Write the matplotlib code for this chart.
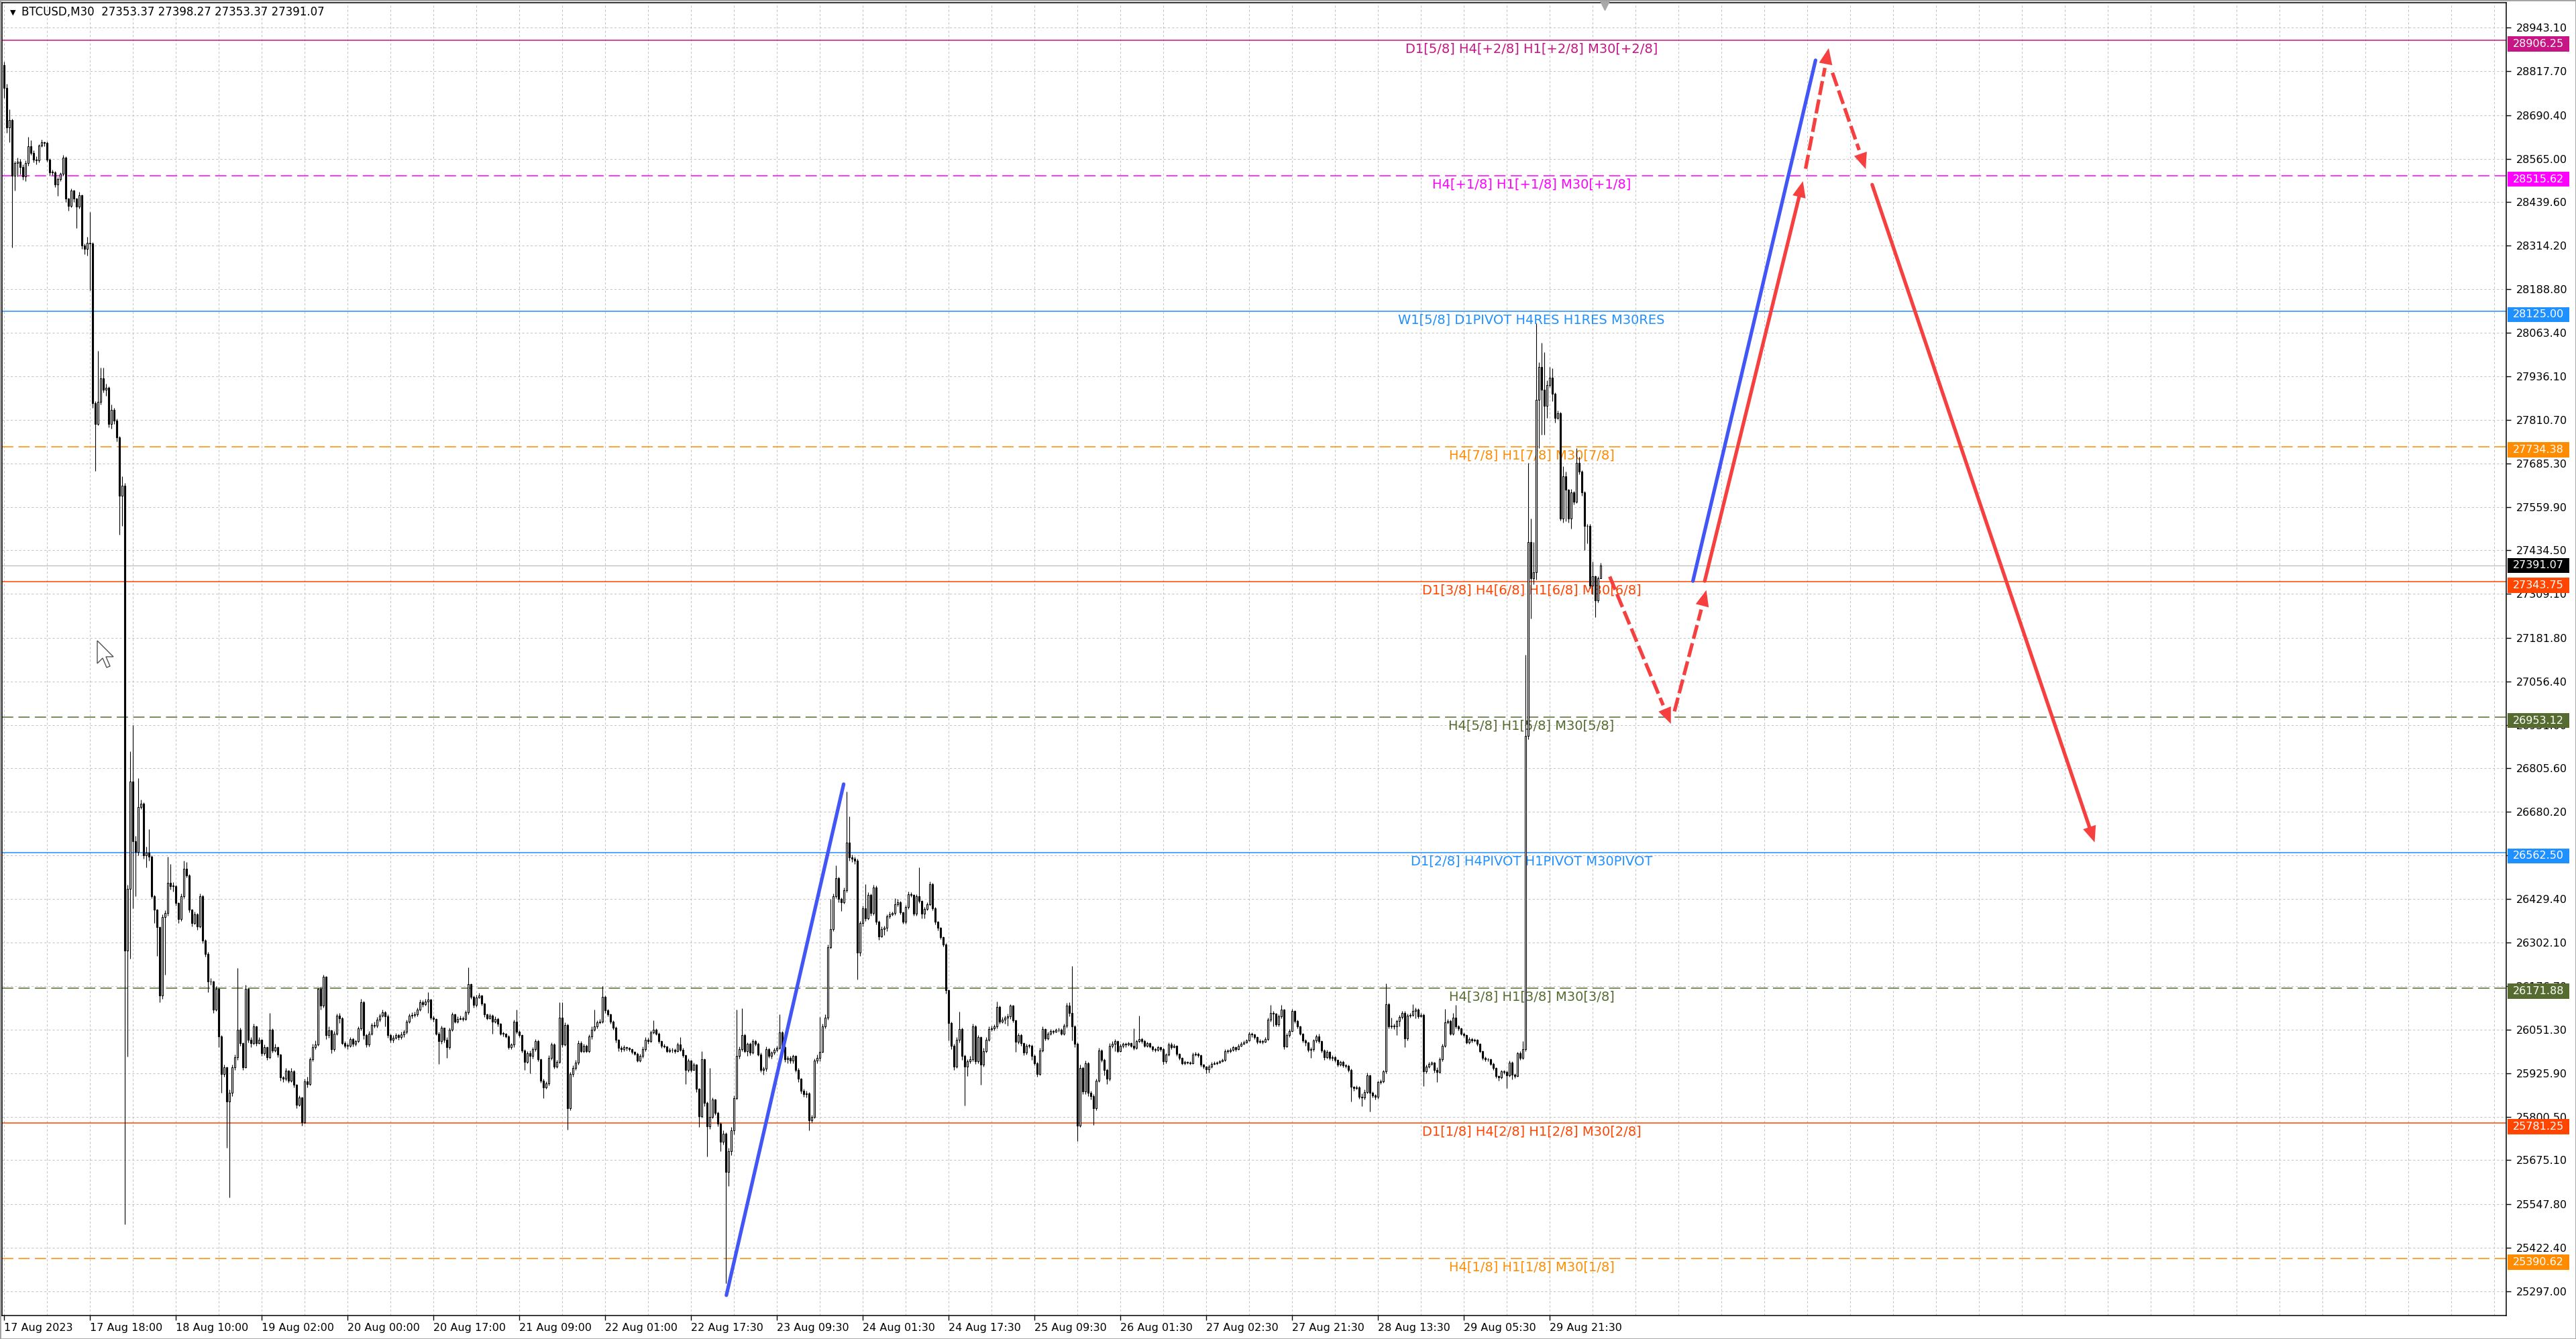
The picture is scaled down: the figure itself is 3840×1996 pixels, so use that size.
import numpy as np
import matplotlib
matplotlib.use('Agg')
import matplotlib.pyplot as plt
from matplotlib.patches import Polygon, Rectangle
from matplotlib.transforms import blended_transform_factory

# --- BTCUSD M30 candles ---
first_open = 28836
closes = np.array([
    28770, 28655, 28676, 28515, 28552, 28556, 28540, 28513, 28552, 28600,
    28581, 28563, 28560, 28602, 28612, 28610, 28563, 28526, 28526, 28490,
    28506, 28521, 28568, 28449, 28429, 28473, 28449, 28426, 28460, 28314,
    28304, 28323, 28320, 27859, 27800, 27863, 27932, 27899, 27903, 27800,
    27840, 27810, 27760, 27593, 27622, 26279, 26457, 26767, 26595, 26565,
    26694, 26703, 26555, 26562, 26550, 26437, 26397, 26348, 26150, 26377,
    26388, 26476, 26466, 26466, 26418, 26370, 26437, 26516, 26497, 26397,
    26360, 26385, 26350, 26437, 26309, 26270, 26190, 26190, 26110, 26170,
    26032, 25923, 25943, 25845, 25870, 25943, 25972, 26052, 26012, 25943,
    26170, 26022, 26012, 26060, 26012, 26022, 25983, 26000, 25972, 26052,
    25992, 26000, 25980, 25913, 25910, 25933, 25905, 25932, 25893, 25835,
    25855, 25785, 25903, 25895, 25966, 26000, 26009, 26169, 26120, 26204,
    26035, 26050, 25995, 26040, 26091, 26085, 26013, 26005, 26005, 26025,
    26010, 26018, 26055, 26130, 26035, 26008, 26040, 26065, 26062, 26080,
    26091, 26101, 26090, 26035, 26022, 26028, 26036, 26030, 26038, 26045,
    26074, 26091, 26093, 26096, 26109, 26130, 26125, 26132, 26139, 26087,
    26083, 26040, 26018, 26057, 26022, 26001, 26052, 26096, 26075, 26083,
    26085, 26082, 26101, 26182, 26147, 26122, 26145, 26150, 26126, 26096,
    26085, 26092, 26075, 26083, 26068, 26040, 26040, 26032, 26001, 26008,
    26074, 26045, 26035, 25992, 25958, 25984, 25975, 25995, 26018, 25966,
    25905, 25884, 25896, 25970, 26009, 25944, 25958, 26087, 26009, 26065,
    25824, 25923, 25940, 25957, 26013, 25990, 26004, 25990, 26031, 26052,
    26061, 26072, 26075, 26147, 26108, 26095, 26074, 26058, 26022, 25999,
    25995, 26001, 25998, 25996, 25987, 25982, 25962, 25975, 25996, 26022,
    26018, 26044, 26052, 26040, 26018, 26005, 26003, 25990, 25994, 25993,
    25990, 26009, 25994, 25978, 25936, 25962, 25936, 25950, 25880, 25802,
    25966, 25840, 25772, 25800, 25849, 25812, 25780, 25728, 25752, 25640,
    25700, 25760, 25854, 25975, 25995, 26035, 25990, 26010, 25985, 26018,
    26010, 25980, 25936, 25938, 25996, 25975, 25985, 25993, 25998, 26044,
    26000, 25966, 25970, 25962, 25975, 25936, 25910, 25875, 25866, 25868,
    25789, 25800, 25962, 25970, 25987, 26061, 26087, 26290, 26342, 26437,
    26489, 26428, 26420, 26454, 26592, 26549, 26545, 26540, 26273, 26359,
    26402, 26372, 26440, 26388, 26462, 26362, 26321, 26342, 26345, 26379,
    26385, 26388, 26413, 26420, 26390, 26362, 26405, 26443, 26440, 26386,
    26436, 26423, 26386, 26400, 26414, 26472, 26402, 26362, 26345, 26318,
    26297, 26165, 26070, 26005, 25944, 26022, 26053, 25975, 25944, 25960,
    25966, 26060, 25960, 26029, 25950, 25990, 26022, 26053, 26056, 26060,
    26117, 26075, 26080, 26086, 26090, 26120, 26078, 26016, 26036, 26012,
    25985, 26005, 26005, 25975, 25955, 25924, 25992, 26053, 26026, 26040,
    26048, 26046, 26051, 26052, 26040, 26062, 26121, 26100, 26060, 26010,
    25775, 25941, 25873, 25955, 25870, 25860, 25825, 25904, 25992, 25965,
    25935, 25910, 26005, 26010, 26018, 25990, 26004, 26010, 26008, 26012,
    26005, 25998, 26018, 26024, 26018, 26005, 26012, 26002, 25996, 25994,
    26000, 25996, 25960, 25980, 26008, 26001, 26005, 25982, 25970, 25955,
    25958, 25957, 25955, 25980, 25982, 25978, 25950, 25944, 25937, 25945,
    25953, 25955, 25956, 25960, 25964, 25990, 25990, 25994, 26000, 25996,
    26005, 26011, 26015, 26020, 26040, 26037, 26030, 26016, 26018, 26016,
    26024, 26080, 26100, 26098, 26066, 26090, 26110, 26002, 26036, 26048,
    26106, 26076, 26060, 26040, 26020, 26014, 25993, 25996, 26020, 26032,
    26018, 25992, 25972, 25988, 25970, 25972, 25965, 25950, 25958, 25948,
    25946, 25936, 25886, 25882, 25885, 25858, 25855, 25872, 25920, 25870,
    25862, 25858, 25900, 25903, 25931, 26125, 26060, 26062, 26060, 26076,
    26088, 26100, 26026, 26091, 26093, 26105, 26110, 26090, 26094, 25931,
    25944, 25952, 25956, 25935, 25930, 25966, 26004, 26073, 26076, 26040,
    26086, 26060, 26056, 26040, 26036, 26015, 26025, 26020, 26023, 26010,
    25990, 25970, 25966, 25966, 25953, 25940, 25918, 25914, 25931, 25930,
    25920, 25957, 25922, 25918, 25983, 25970, 25996, 26900, 27458, 27354,
    27372, 27869, 27964, 27899, 27851, 27912, 27933, 27886, 27817, 27830,
    27527, 27648, 27609, 27527, 27601, 27575, 27687, 27661, 27601, 27506,
    27505, 27333, 27359, 27290, 27353.37, 27391.07])

highs = np.array([
    28845, 28781, 28707, 28680, 28558, 28568, 28565, 28548, 28560, 28628,
    28618, 28590, 28572, 28606, 28620, 28614, 28615, 28566, 28534, 28530,
    28512, 28526, 28575, 28572, 28452, 28478, 28476, 28452, 28470, 28462,
    28320, 28340, 28412, 28325, 27865, 28011, 27962, 27962, 27915, 27908,
    27855, 27845, 27815, 27765, 27648, 27630, 26470, 26854, 26931, 26610,
    26777, 26715, 26708, 26580, 26630, 26555, 26440, 26400, 26350, 26385,
    26395, 26550, 26530, 26478, 26470, 26420, 26445, 26540, 26536, 26500,
    26400, 26392, 26388, 26445, 26440, 26312, 26275, 26200, 26192, 26178,
    26172, 26035, 25950, 25945, 25878, 25950, 25980, 26230, 26058, 26015,
    26180, 26172, 26030, 26068, 26062, 26030, 26025, 26008, 26002, 26100,
    26055, 26010, 26002, 25982, 25918, 25940, 25935, 25940, 25935, 25895,
    25862, 25858, 25910, 25915, 25972, 26010, 26020, 26172, 26175, 26210,
    26206, 26060, 26052, 26048, 26098, 26100, 26088, 26018, 26012, 26030,
    26028, 26022, 26060, 26140, 26135, 26040, 26048, 26070, 26075, 26088,
    26098, 26110, 26105, 26095, 26040, 26035, 26042, 26040, 26045, 26052,
    26080, 26098, 26102, 26104, 26115, 26138, 26136, 26140, 26160, 26140,
    26092, 26085, 26045, 26062, 26058, 26030, 26058, 26102, 26098, 26090,
    26092, 26090, 26108, 26231, 26185, 26150, 26152, 26158, 26152, 26128,
    26098, 26098, 26095, 26090, 26086, 26070, 26046, 26042, 26035, 26012,
    26080, 26110, 26050, 26038, 25995, 25990, 25992, 26000, 26025, 26022,
    25968, 25910, 25902, 25978, 26015, 26012, 25965, 26131, 26130, 26072,
    26068, 25930, 25948, 25965, 26020, 26018, 26010, 26008, 26038, 26060,
    26110, 26078, 26082, 26178, 26150, 26112, 26098, 26078, 26060, 26025,
    26005, 26006, 26003, 26001, 25997, 25990, 25985, 25982, 26002, 26030,
    26028, 26050, 26078, 26056, 26044, 26020, 26010, 26005, 25999, 25998,
    25997, 26014, 26030, 25998, 25980, 25968, 25965, 25956, 25952, 25882,
    25990, 25968, 25845, 25940, 25856, 25852, 25815, 25785, 25760, 25755,
    25710, 25770, 25862, 26110, 26002, 26113, 26040, 26015, 26015, 26024,
    26022, 26015, 25985, 25945, 26002, 25999, 25990, 25998, 26004, 26095,
    26048, 26005, 25975, 25975, 25980, 25978, 25940, 25912, 25880, 25875,
    25872, 25806, 25968, 25980, 26088, 26068, 26095, 26298, 26428, 26445,
    26525, 26492, 26432, 26462, 26738, 26667, 26556, 26550, 26545, 26365,
    26410, 26472, 26448, 26445, 26470, 26468, 26366, 26350, 26352, 26385,
    26392, 26392, 26430, 26428, 26422, 26392, 26412, 26450, 26448, 26442,
    26442, 26520, 26425, 26405, 26420, 26480, 26475, 26405, 26365, 26348,
    26320, 26300, 26168, 26075, 26010, 26030, 26104, 26058, 25980, 25966,
    25975, 26068, 26064, 26036, 26032, 25998, 26030, 26060, 26062, 26066,
    26133, 26120, 26088, 26092, 26098, 26124, 26122, 26080, 26042, 26040,
    26015, 26010, 26010, 26008, 25980, 25958, 25998, 26060, 26056, 26046,
    26054, 26052, 26056, 26058, 26055, 26068, 26128, 26130, 26236, 26065,
    26015, 25950, 25945, 25962, 25958, 25875, 25865, 25910, 25998, 25996,
    25968, 25938, 26012, 26018, 26024, 26020, 26010, 26015, 26014, 26016,
    26014, 26056, 26022, 26092, 26028, 26022, 26016, 26014, 26004, 25998,
    26004, 26002, 25998, 25984, 26014, 26015, 26010, 26006, 25984, 25972,
    25962, 25961, 25960, 25985, 25988, 25986, 25980, 25952, 25946, 25950,
    25958, 25960, 25960, 25965, 25968, 25996, 25996, 25998, 26004, 26002,
    26010, 26016, 26020, 26025, 26046, 26044, 26040, 26032, 26024, 26022,
    26030, 26086, 26122, 26105, 26100, 26095, 26122, 26112, 26042, 26054,
    26112, 26108, 26080, 26062, 26042, 26025, 26016, 26000, 26025, 26038,
    26040, 26020, 25995, 25994, 25990, 25978, 25975, 25966, 25962, 25962,
    25952, 25950, 25938, 25888, 25890, 25888, 25868, 25878, 25928, 25922,
    25874, 25866, 25905, 25908, 25936, 26185, 26128, 26086, 26068, 26080,
    26094, 26106, 26105, 26098, 26100, 26125, 26116, 26114, 26100, 26098,
    25950, 25958, 25960, 25958, 25942, 25972, 26010, 26112, 26082, 26080,
    26100, 26122, 26064, 26058, 26044, 26038, 26030, 26028, 26027, 26025,
    26012, 25992, 25974, 25970, 25968, 25956, 25942, 25920, 25936, 25936,
    25934, 25962, 25960, 25926, 25988, 25990, 26018, 27134, 27687, 27527,
    27458, 28089, 27977, 28033, 28007, 27925, 27963, 27960, 27890, 27838,
    27835, 27678, 27661, 27612, 27612, 27606, 27730, 27705, 27665, 27605,
    27510, 27510, 27402, 27362, 27360, 27398.27])

lows = np.array([
    28740, 28640, 28612, 28308, 28474, 28513, 28520, 28505, 28500, 28545,
    28575, 28555, 28548, 28555, 28598, 28600, 28556, 28515, 28518, 28482,
    28458, 28500, 28515, 28440, 28416, 28425, 28440, 28365, 28420, 28305,
    28290, 28285, 28185, 27845, 27664, 27795, 27855, 27890, 27880, 27790,
    27785, 27800, 27750, 27480, 27505, 25490, 25973, 26257, 26401, 26437,
    26555, 26688, 26545, 26520, 26540, 26430, 26359, 26264, 26130, 26140,
    26210, 26380, 26455, 26450, 26410, 26360, 26365, 26430, 26490, 26390,
    26350, 26355, 26340, 26345, 26300, 26262, 26160, 26180, 26100, 26105,
    26000, 25870, 25915, 25710, 25568, 25860, 25935, 25965, 26005, 25935,
    25940, 26015, 26000, 26008, 26005, 26010, 25975, 25978, 25965, 25968,
    25985, 25988, 25972, 25905, 25900, 25905, 25898, 25900, 25885, 25825,
    25830, 25775, 25780, 25885, 25890, 25960, 25995, 26005, 26110, 26115,
    26025, 26028, 25983, 25990, 26035, 26070, 26008, 25998, 25995, 26000,
    26002, 26005, 26015, 26050, 26025, 26000, 26002, 26035, 26058, 26058,
    26075, 26088, 26060, 26028, 26015, 26015, 26025, 26022, 26025, 26030,
    26040, 26070, 26085, 26088, 26090, 26105, 26118, 26120, 26100, 26080,
    26075, 26035, 25953, 26010, 26015, 25970, 25995, 26048, 26070, 26070,
    26080, 26076, 26078, 26095, 26140, 26115, 26118, 26142, 26120, 26088,
    26080, 26082, 26040, 26070, 26060, 26035, 26032, 26028, 25995, 25996,
    26000, 26040, 26030, 25985, 25935, 25955, 25925, 25968, 25990, 25960,
    25898, 25853, 25880, 25890, 25965, 25938, 25940, 25955, 26000, 26005,
    25762, 25818, 25915, 25935, 25950, 25985, 25985, 25985, 25985, 26025,
    26048, 26055, 26068, 26070, 26100, 26090, 26068, 26052, 26015, 25990,
    25988, 25990, 25992, 25990, 25982, 25978, 25958, 25958, 25970, 25990,
    26010, 26015, 26040, 26035, 26012, 25998, 25998, 25985, 25986, 25986,
    25984, 25988, 25990, 25972, 25895, 25930, 25930, 25935, 25872, 25770,
    25798, 25830, 25685, 25765, 25795, 25805, 25772, 25700, 25720, 25320,
    25600, 25690, 25750, 25850, 25968, 25990, 25985, 25975, 25978, 25982,
    26005, 25975, 25930, 25922, 25932, 25970, 25968, 25980, 25988, 25995,
    25995, 25958, 25955, 25955, 25955, 25930, 25900, 25868, 25858, 25855,
    25760, 25785, 25795, 25955, 25960, 25985, 26055, 26080, 26285, 26335,
    26430, 26420, 26394, 26415, 26448, 26540, 26535, 26530, 26197, 26265,
    26350, 26365, 26368, 26380, 26382, 26355, 26310, 26318, 26325, 26335,
    26372, 26380, 26382, 26408, 26385, 26358, 26358, 26400, 26435, 26380,
    26380, 26418, 26372, 26372, 26395, 26410, 26395, 26355, 26338, 26312,
    26292, 26155, 26020, 25995, 25935, 25940, 26015, 25965, 25832, 25918,
    25955, 25960, 25952, 25955, 25893, 25945, 25985, 26018, 26048, 26050,
    26055, 26068, 26070, 26068, 26062, 26082, 26072, 25988, 26010, 26005,
    25978, 25980, 25998, 25965, 25948, 25915, 25920, 25988, 26020, 26022,
    26036, 26040, 26044, 26046, 26035, 26036, 26058, 26090, 26020, 26000,
    25730, 25770, 25865, 25866, 25860, 25850, 25776, 25818, 25900, 25958,
    25920, 25895, 25905, 25998, 25990, 25985, 25988, 25998, 26000, 26004,
    26000, 25994, 25996, 26015, 26012, 26000, 26000, 25998, 25990, 25988,
    25990, 25990, 25950, 25955, 25975, 25996, 25998, 25975, 25965, 25950,
    25950, 25952, 25950, 25952, 25975, 25972, 25945, 25938, 25925, 25927,
    25940, 25950, 25950, 25955, 25958, 25960, 25984, 25986, 25990, 25990,
    25994, 26003, 26009, 26012, 26018, 26030, 26025, 26010, 26012, 26010,
    26014, 26020, 26075, 26060, 26060, 26060, 26085, 25995, 26000, 26030,
    26045, 26070, 26055, 26035, 26015, 26005, 25988, 25970, 25990, 26015,
    26012, 25985, 25965, 25968, 25965, 25962, 25958, 25945, 25946, 25942,
    25940, 25930, 25845, 25875, 25878, 25852, 25830, 25850, 25868, 25815,
    25855, 25850, 25852, 25895, 25898, 25925, 26055, 26055, 26054, 26035,
    26060, 26082, 26000, 26020, 26086, 26090, 26085, 26085, 26088, 25888,
    25925, 25940, 25948, 25928, 25900, 25925, 25960, 26000, 26068, 26035,
    26036, 26055, 26050, 26035, 26030, 26010, 26010, 26015, 26016, 26005,
    25985, 25965, 25960, 25960, 25948, 25935, 25912, 25905, 25910, 25924,
    25883, 25915, 25908, 25912, 25915, 25965, 25966, 25990, 26890, 27238,
    27337, 27350, 27730, 27769, 27769, 27817, 27905, 27865, 27804, 27812,
    27520, 27514, 27518, 27514, 27497, 27568, 27570, 27655, 27592, 27436,
    27454, 27325, 27307, 27242, 27285, 27353.37])

# Murrey-math style levels
level_prices = [28906.25, 28515.62, 28125.00, 27734.38, 27343.75,
                26953.12, 26562.50, 26171.88, 25781.25, 25390.62]
level_names = ['D1[5/8] H4[+2/8] H1[+2/8] M30[+2/8]',
               'H4[+1/8] H1[+1/8] M30[+1/8]',
               'W1[5/8] D1PIVOT H4RES H1RES M30RES',
               'H4[7/8] H1[7/8] M30[7/8]',
               'D1[3/8] H4[6/8] H1[6/8] M30[6/8]',
               'H4[5/8] H1[5/8] M30[5/8]',
               'D1[2/8] H4PIVOT H1PIVOT M30PIVOT',
               'H4[3/8] H1[3/8] M30[3/8]',
               'D1[1/8] H4[2/8] H1[2/8] M30[2/8]',
               'H4[1/8] H1[1/8] M30[1/8]']
level_colors = ['#C71585', '#FF00FF', '#1E90FF', '#FF8C00', '#FF4500',
                '#556B2F', '#1E90FF', '#556B2F', '#FF4500', '#FF8C00']
level_dashed = [False, True, False, True, False, True, False, True, False, True]

last_price = 27391.07

ytick_vals = [28943.10, 28817.70, 28690.40, 28565.00, 28439.60, 28314.20,
              28188.80, 28063.40, 27936.10, 27810.70, 27685.30, 27559.90,
              27434.50, 27309.10, 27181.80, 27056.40, 26931.00, 26805.60,
              26680.20, 26554.80, 26429.40, 26302.10, 26176.70, 26051.30,
              25925.90, 25800.50, 25675.10, 25547.80, 25422.40, 25297.00]
xtick_labels = ['17 Aug 2023', '17 Aug 18:00', '18 Aug 10:00', '19 Aug 02:00',
                '20 Aug 00:00', '20 Aug 17:00', '21 Aug 09:00', '22 Aug 01:00',
                '22 Aug 17:30', '23 Aug 09:30', '24 Aug 01:30', '24 Aug 17:30',
                '25 Aug 09:30', '26 Aug 01:30', '27 Aug 02:30', '27 Aug 21:30',
                '28 Aug 13:30', '29 Aug 05:30', '29 Aug 21:30']

# drawn objects (bar index, price)
blue_lines = [((269.2, 25285), (312.9, 26760)),
              ((629.4, 27346), (675.1, 28849))]
red_solid = [((633.8, 27346), (670.4, 28500)),
             ((696.2, 28490), (779.1, 26592))]
red_dashed = [((598.4, 27359), (621.2, 26934)),
              ((622.5, 26970), (634.4, 27320)),
              ((671.4, 28536), (680.0, 28884)),
              ((681.4, 28813), (693.8, 28535))]

BLUE = '#4255F5'
RED = '#F5403F'
GRID = '#C4C4C4'

plt.rcParams['font.family'] = ['DejaVu Sans']

W, H, DPI = 3840, 1996, 100
PX = 1.936  # price units per pixel
fig = plt.figure(figsize=(W / DPI, H / DPI), dpi=DPI)
fig.patch.set_facecolor('white')
ax = fig.add_axes([3 / W, 1 - 1961 / H, (3736 - 3) / W, (1961 - 4) / H])
ax.set_facecolor('white')
ax.set_xlim(-0.75, 932.5)
ax.set_ylim(25226.5, 29015.2)

# grid
for yv in ytick_vals:
    ax.axhline(yv, color=GRID, lw=0.75, ls=(0, (3, 3)), zorder=0.5)
for xb in range(0, 933, 16):
    ax.axvline(xb, color=GRID, lw=0.75, ls=(0, (3, 3)), zorder=0.5)

# levels
trans = blended_transform_factory(ax.transAxes, ax.transData)
for p, name, col, dsh in zip(level_prices, level_names, level_colors, level_dashed):
    ax.axhline(p, color=col, lw=1.1, ls=(0, (11, 5)) if dsh else '-', zorder=1.5)
    ax.annotate(name, xy=(569.25, p), xytext=(0, -2.5), textcoords='offset points',
                ha='center', va='top', fontsize=14, color=col, zorder=2)
ax.axhline(last_price, color='#BDBDBD', lw=0.9, zorder=1.4)

# candles
n = len(closes)
x = np.arange(n)
opens = np.r_[first_open, closes[:-1]]
highs = np.maximum(highs, np.maximum(opens, closes))
lows = np.minimum(lows, np.minimum(opens, closes))
bull = closes >= opens
blo = np.minimum(opens, closes)
bh = np.maximum(np.abs(closes - opens), 0.8)
ax.vlines(x, lows, highs, color='black', lw=0.8, zorder=3)
ax.bar(x[bull], bh[bull], bottom=blo[bull], width=0.6, color='white',
       edgecolor='black', linewidth=0.8, zorder=4)
ax.bar(x[~bull], bh[~bull], bottom=blo[~bull], width=0.6, color='black',
       edgecolor='black', linewidth=0.8, zorder=4)


def to_px(pts):
    return ax.transData.transform(np.asarray(pts, dtype=float))


def from_px(pts):
    return ax.transData.inverted().transform(np.asarray(pts, dtype=float))


def draw_arrow(start, tip, dashed):
    s, t = to_px([start, tip])
    d = (t - s) / np.hypot(*(t - s))
    nrm = np.array([-d[1], d[0]])
    hl, hw = 24, 10
    base = t - d * hl
    end = t - d * (hl + 6) if dashed else t - d * (hl - 4)
    seg = from_px([s, end])
    ax.plot(seg[:, 0], seg[:, 1], color=RED, lw=3.8,
            ls=(0, (4, 1.3)) if dashed else '-',
            solid_capstyle='round', dash_capstyle='butt', zorder=7)
    tri = from_px([t, base + nrm * hw, base - nrm * hw])
    ax.add_patch(Polygon(tri, closed=True, facecolor=RED, edgecolor='none', zorder=7))


for a, b in blue_lines:
    ax.plot([a[0], b[0]], [a[1], b[1]], color=BLUE, lw=3.8,
            solid_capstyle='round', zorder=7)
for a, b in red_solid:
    draw_arrow(a, b, False)
for a, b in red_dashed:
    draw_arrow(a, b, True)

# axes styling
for sp in ax.spines.values():
    sp.set_linewidth(1.1)
    sp.set_color('black')
ax.set_yticks(ytick_vals)
ax.set_yticklabels([f'{v:.2f}' for v in ytick_vals])
ax.set_xticks(np.arange(len(xtick_labels)) * 32)
ax.set_xticklabels(xtick_labels, ha='left')
ax.tick_params(axis='y', left=False, right=True, labelleft=False, labelright=True,
               direction='out', length=5, width=1, pad=6, labelsize=11.5)
ax.tick_params(axis='x', direction='out', length=5, width=1, pad=3, labelsize=11.5)

# price tags on the scale (object tags sit ~5 px under their line)
tag_h = 11.3 * PX
tags = [(p, col, -5 * PX) for p, col in zip(level_prices, level_colors)]
tags.append((last_price, 'black', 0.0))
for p, col, off in tags:
    yc = p + off
    ax.add_patch(Rectangle((1.0006, yc - tag_h), 92 / 3733, 2 * tag_h, transform=trans,
                           facecolor=col, edgecolor='none', clip_on=False, zorder=9))
    ax.text(1.0006 + 46 / 3733, yc, f'{p:.2f}', transform=trans, ha='center',
            va='center', fontsize=11.5, color='white', clip_on=False, zorder=10)

# header
ax.text(12 / 3733, 0.9927, '\u25BC', transform=ax.transAxes, fontsize=8,
        ha='left', va='center')
ax.text(29 / 3733, 0.9927, 'BTCUSD,M30  27353.37 27398.27 27353.37 27391.07',
        transform=ax.transAxes, fontsize=12, ha='left', va='center')
ax.plot([596.5], [29015.2 - 8], marker='v', ms=10, color='#A8A8A8',
        clip_on=False, zorder=8)

# mouse pointer left on the screenshot (pixel coords, y down)
cur = np.array([[0, 0], [0, 34], [8, 26], [14, 40], [19, 38], [13, 24], [24, 24]], float)
tip_px = np.array([145.0, 955.0])
pts = np.column_stack([tip_px[0] + cur[:, 0], H - (tip_px[1] + cur[:, 1])])
fig.add_artist(Polygon(pts / [W, H], closed=True, transform=fig.transFigure,
                       facecolor='white', edgecolor='#505050', lw=1.0, zorder=20))

fig.add_artist(Rectangle((0, 0), 1, 1, transform=fig.transFigure, fill=False,
                         edgecolor='#A0A0A0', lw=2))

fig.savefig('out.png', dpi=DPI, facecolor='white')
